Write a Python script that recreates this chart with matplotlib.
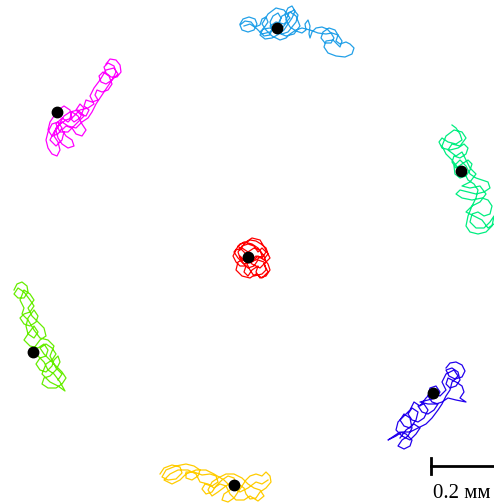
import matplotlib.pyplot as plt

# centres of the seven tracks (black dots)
centers_x = [277, 57, 461, 248, 33, 433, 234]
centers_y = [28, 112, 171, 257, 352, 393, 485]

colors = ['#22a0e8', '#ff00ff', '#00ee80', '#ff0000', '#66ee00', '#2200ee', '#ffcc00']

# traced tracks, one (x, y) list pair per particle
track1_x = [240, 243, 249, 255, 257, 254, 248, 242, 240, 245, 251, 255, 260, 262, 266, 268, 264, 260, 264, 270,
            272, 270, 273, 278, 281, 279, 283, 287, 285, 288, 292, 295, 292, 288, 284, 279, 272, 265, 260, 263,
            270, 276, 282, 288, 292, 296, 298, 294, 289, 286, 290, 296, 302, 306, 305, 308, 310, 309, 310, 312,
            316, 322, 327, 331, 334, 331, 325, 321, 323, 329, 335, 338, 336, 340, 346, 350, 354, 352, 345, 336,
            328, 324, 326, 333, 340, 342, 338, 332, 326, 318, 310, 302, 296, 290, 286,
            280, 272, 266, 262, 268, 276, 284, 290, 284, 276, 270, 276, 286, 294, 300, 296, 290, 282, 278, 270,
            262, 256, 250, 244]
track1_y = [24, 19, 17, 19, 24, 30, 32, 30, 25, 21, 22, 27, 25, 19, 17, 22, 28, 32, 36, 35,
            29, 22, 16, 13, 18, 24, 27, 22, 14, 8, 6, 11, 18, 24, 30, 34, 38, 39, 35, 29,
            28, 31, 34, 32, 27, 22, 15, 10, 13, 20, 27, 31, 33, 30, 24, 20, 26, 34, 38, 32,
            28, 27, 29, 33, 38, 43, 43, 38, 32, 28, 30, 35, 41, 44, 42, 44, 48, 54, 57, 56,
            53, 47, 41, 40, 47, 41, 35, 33, 34, 33, 30, 28, 30, 34, 38,
            40, 36, 30, 24, 14, 8, 10, 18, 24, 22, 26, 32, 36, 34, 26, 16, 12, 16, 24, 32,
            34, 28, 24, 26]

track2_x = [106, 110, 116, 120, 121, 117, 111, 106, 104, 108, 114, 116, 112, 106, 101, 99, 103, 109, 112, 108,
            102, 97, 95, 98, 92, 86, 84, 89, 86, 80, 76, 80, 84, 80, 74, 70, 72, 78, 82, 86,
            82, 76, 72, 66, 62, 66, 72, 74, 68, 62, 58, 56, 60, 66, 72, 70, 64, 58, 54, 50,
            48, 52, 58, 62, 58, 52, 48, 46, 48, 52, 57, 60, 58, 54, 56, 62, 68, 76, 82, 88,
            92, 96, 100, 104, 108, 112,
            118, 114, 106, 100, 94, 90, 94, 88, 80, 74, 68, 62, 56, 60, 68, 76, 84, 78, 70, 64,
            58, 54, 50, 56, 62, 64]
track2_y = [64, 59, 60, 65, 72, 77, 77, 73, 67, 63, 66, 72, 80, 84, 82, 76, 72, 76, 84, 90,
            92, 90, 95, 100, 102, 100, 106, 110, 116, 114, 110, 104, 108, 118, 122, 118, 112, 116, 124, 130,
            136, 134, 128, 126, 130, 136, 140, 146, 148, 144, 138, 130, 124, 120, 118, 110, 106, 110, 116, 122,
            130, 136, 134, 128, 122, 124, 132, 140, 148, 154, 156, 150, 142, 136, 128, 122, 126, 128, 122, 118,
            112, 104, 98, 92, 86, 80,
            74, 68, 70, 80, 88, 96, 104, 108, 110, 116, 122, 118, 124, 132, 132, 124, 116, 110, 112, 116,
            126, 132, 140, 146, 140, 132]

track3_x = [452, 456, 460, 462, 456, 448, 442, 439, 442, 450, 458, 464, 468, 466, 460, 454, 452, 456, 462, 468,
            472, 470, 466, 460, 455, 454, 460, 466, 470, 476, 482, 488, 490, 484, 476, 468, 460, 456, 462, 472,
            482, 488, 492, 490, 484, 478, 472, 470, 476, 484, 490, 494, 492, 486, 478, 470, 466, 468, 472, 476,
            478, 474, 468, 464, 458, 452,
            446, 442, 446, 454, 462, 466, 460, 452, 448, 456, 462, 466, 470, 476, 470, 462, 470, 480, 486, 480,
            472, 466, 474, 482, 488, 494]
track3_y = [125, 128, 134, 140, 144, 142, 138, 142, 148, 150, 148, 144, 148, 154, 158, 156, 162, 168, 164, 160,
            164, 170, 176, 178, 174, 166, 160, 166, 174, 178, 180, 182, 188, 192, 194, 192, 190, 194, 198, 200,
            198, 200, 206, 214, 216, 212, 214, 222, 228, 228, 222, 216, 226, 232, 234, 232, 226, 216, 206, 198,
            190, 184, 180, 172, 168, 160,
            154, 146, 136, 130, 132, 138, 146, 144, 150, 156, 152, 160, 168, 174, 182, 186, 188, 186, 194, 202,
            206, 212, 216, 220, 228, 224]

track4_x = [240, 244, 250, 256, 261, 266, 268, 264, 268, 270, 266, 260, 256, 258, 252, 248, 244, 246, 240, 236,
            233, 236, 242, 248, 254, 260, 262, 256, 250, 244, 240, 242, 248, 254, 258, 264, 266, 262, 254, 250,
            246, 240, 238, 242, 248, 254, 258, 262, 266, 262, 256, 252, 248, 244, 238, 244, 252, 258, 264, 266,
            260, 252, 246,
            238, 236, 242, 250, 256, 262, 268, 264, 270, 266, 260, 252, 246, 240, 234, 238, 244, 252, 258, 264]
track4_y = [250, 244, 240, 241, 244, 248, 254, 259, 264, 270, 276, 278, 272, 266, 270, 276, 272, 266, 266, 262,
            256, 250, 248, 252, 248, 250, 256, 260, 262, 260, 256, 262, 268, 266, 260, 262, 270, 274, 276, 270,
            262, 258, 252, 246, 244, 246, 252, 248, 252, 258, 256, 260, 256, 252, 246, 242, 244, 248, 256, 262,
            268, 264, 258,
            262, 270, 276, 278, 274, 278, 272, 264, 258, 250, 240, 238, 242, 244, 252, 258, 264, 262, 256, 260]

track5_x = [14, 17, 22, 27, 28, 24, 18, 14, 18, 24, 30, 34, 30, 24, 20, 24, 30, 36, 38, 34,
            28, 26, 28, 34, 38, 34, 28, 24, 30, 38, 44, 48, 46, 40, 36, 40, 46, 52, 54, 58,
            60, 56, 50, 44, 42, 48, 56, 62, 66, 62, 56, 50, 44, 40, 46, 52, 56, 52, 46, 42,
            50, 58, 65,
            60, 54, 48, 44, 38, 34, 40, 46, 44, 38, 32, 28, 34, 30, 24, 20, 24, 22, 28, 34,
            40, 48, 54, 50, 56, 62, 58]
track5_y = [290, 284, 282, 286, 292, 298, 298, 294, 288, 292, 300, 306, 312, 314, 318, 324, 326, 322, 316, 310,
            318, 326, 334, 338, 332, 326, 334, 340, 346, 348, 344, 350, 356, 358, 364, 370, 372, 366, 360, 356,
            362, 370, 376, 378, 384, 388, 388, 384, 378, 372, 366, 360, 354, 348, 344, 348, 354, 360, 364, 374,
            382, 386, 391,
            382, 374, 370, 362, 356, 348, 340, 336, 328, 322, 316, 308, 300, 294, 290, 300, 308, 314, 320, 330,
            338, 340, 346, 356, 368, 374, 380]

track6_x = [446, 450, 456, 462, 465, 462, 455, 449, 446, 452, 458, 460, 456, 450, 446, 448, 456, 462, 464, 460,
            466, 456, 448, 442, 436, 428, 420, 428, 436, 440, 436, 430, 428, 432, 438, 434, 428, 422, 418, 424,
            428, 424, 418, 412, 408, 412, 418, 416, 410, 404, 400, 404, 410, 412, 408, 402, 398, 404, 410, 412,
            406, 400, 394, 388, 396, 402, 410, 418, 426, 432, 438, 442, 446, 450, 452,
            458, 454, 446, 442, 446, 440, 432, 426, 420, 414, 410, 404, 398, 396, 402, 410, 416, 420, 414, 406,
            400]
track6_y = [368, 363, 362, 365, 371, 377, 379, 376, 370, 368, 372, 380, 386, 388, 384, 378, 382, 386, 392, 398,
            402, 400, 398, 402, 404, 404, 402, 400, 398, 392, 386, 388, 396, 402, 404, 410, 414, 412, 406, 404,
            410, 418, 422, 420, 414, 408, 412, 420, 428, 426, 420, 414, 418, 428, 436, 440, 446, 449, 446, 440,
            434, 432, 436, 440, 436, 432, 432, 428, 424, 418, 410, 404, 396, 390, 382,
            376, 370, 374, 382, 390, 396, 392, 398, 406, 402, 410, 416, 422, 430, 436, 440, 434, 428, 424, 430,
            438]

track7_x = [160, 164, 172, 180, 182, 176, 168, 162, 166, 176, 186, 194, 200, 198, 192, 186, 186, 194, 202, 210,
            216, 218, 212, 205, 202, 206, 212, 216, 222, 228, 234, 236, 230, 224, 222, 228, 234, 238, 242, 246,
            250, 256, 262, 266, 270, 271, 266, 260, 256, 250, 246, 244, 238, 232, 226, 218, 212, 208, 212, 218,
            226, 234, 242, 248, 254, 260, 264, 258, 250,
            244, 236, 230, 226, 220, 214, 208, 200, 196, 188, 178, 170, 164, 172, 180, 186, 196, 206, 214, 224,
            232, 240, 248, 256, 262, 268]
track7_y = [474, 468, 465, 467, 473, 479, 480, 477, 470, 466, 464, 466, 470, 476, 480, 478, 472, 472, 475, 474,
            476, 482, 486, 484, 489, 494, 492, 486, 480, 476, 478, 484, 490, 494, 500, 502, 498, 492, 486, 480,
            476, 474, 476, 472, 476, 482, 488, 492, 498, 499, 494, 488, 484, 482, 486, 492, 496, 490, 482, 478,
            474, 474, 478, 484, 488, 490, 496, 501, 496,
            500, 500, 494, 486, 484, 488, 484, 482, 474, 470, 470, 474, 480, 484, 480, 474, 470, 470, 474, 480,
            488, 492, 488, 482, 484, 480]

tracks = [(track1_x, track1_y), (track2_x, track2_y), (track3_x, track3_y), (track4_x, track4_y),
          (track5_x, track5_y), (track6_x, track6_y), (track7_x, track7_y)]

bar_x0 = 431
bar_len = 68  # 0.2 mm
bar_y = 466

fig = plt.figure(figsize=(4.94, 5.04), dpi=100)
ax = fig.add_axes([0, 0, 1, 1])

for (tx, ty), c in zip(tracks, colors):
    ax.plot(tx, ty, '-', color=c, lw=0.9, solid_joinstyle='round')

ax.plot(centers_x, centers_y, 'o', color='black', ms=7.5, zorder=5)

# scale bar
ax.plot([bar_x0, bar_x0 + bar_len], [bar_y, bar_y], color='black', lw=2)
ax.plot([bar_x0, bar_x0], [bar_y - 8, bar_y + 8], color='black', lw=2)
ax.plot([bar_x0 + bar_len, bar_x0 + bar_len], [bar_y - 8, bar_y + 8], color='black', lw=2)
ax.text(462, 494, '0.2 мм', family='Liberation Serif', fontsize=15,
        ha='center', va='center')

ax.set_xlim(0, 494)
ax.set_ylim(504, 0)
ax.axis('off')

fig.savefig('out.png', dpi=100)
